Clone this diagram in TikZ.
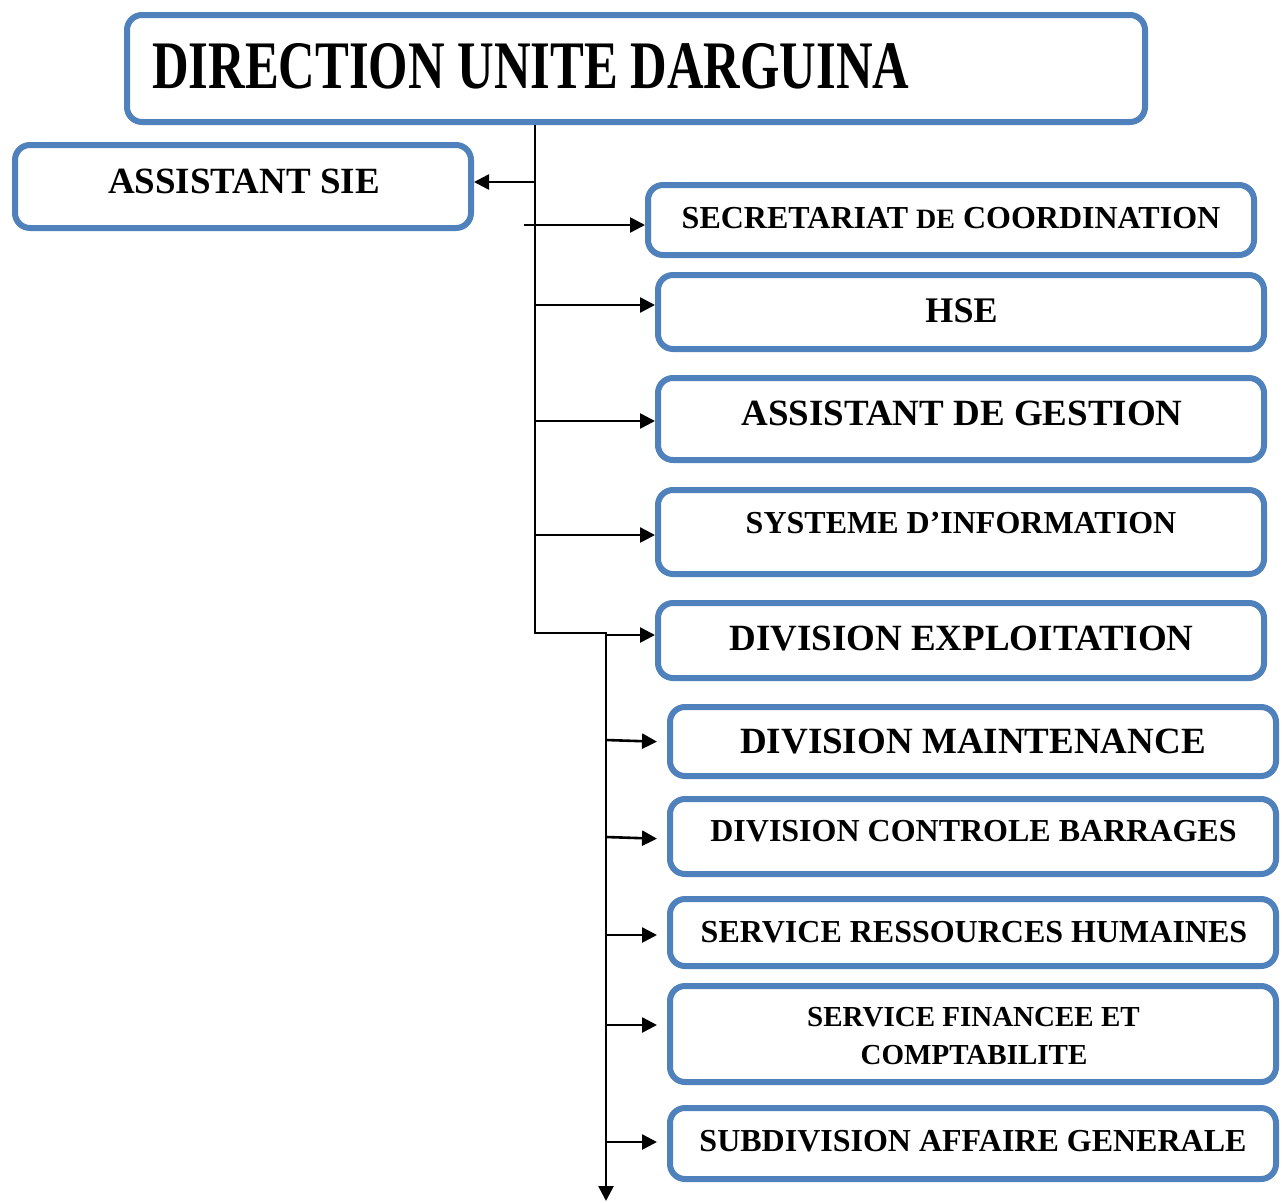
\documentclass[tikz,border=0pt]{standalone}
\usepackage{fontspec}
\usepackage{graphicx}
\setmainfont{Liberation Serif}
\usetikzlibrary{arrows.meta}
\definecolor{boxblue}{HTML}{4F81BD}
\newcommand\mkbox[5]{\node[box, minimum width={#4-#2-6}, minimum height={#5-#3-6}] (#1) at ({(#2+#4)/2},{(#3+#5)/2}) {};}
\begin{document}
\begin{tikzpicture}[x=1pt,y=-1pt,
  box/.style={draw=boxblue, line width=6pt, rounded corners=15pt, fill=white, inner sep=0pt},
  arr/.style={line width=2.6pt, -{Triangle[length=15pt,width=15pt]}},
  lbl/.style={anchor=base, inner sep=0pt, font=\bfseries}]
\useasboundingbox[fill=white] (0,0) rectangle (1282,1202);
% boxes
\mkbox{title}{124}{12}{1148}{125}
\mkbox{asie}{12}{142}{474}{231}
\mkbox{sec}{645}{182}{1257}{258}
\mkbox{hse}{655}{272}{1267}{352}
\mkbox{adg}{655}{375}{1267}{463}
\mkbox{sys}{655}{487}{1267}{577}
\mkbox{dexp}{655}{600}{1267}{681}
\mkbox{dmaint}{667}{704}{1279}{779}
\mkbox{dctrl}{667}{796}{1279}{877}
\mkbox{srh}{667}{896}{1279}{969}
\mkbox{sfin}{667}{983}{1279}{1085}
\mkbox{subdiv}{667}{1105}{1279}{1182}
% labels
\node[lbl, anchor=base west] (ttl) at (152,88) {\fontsize{68}{70}\selectfont\scalebox{0.745}[1]{DIRECTION UNITE DARGUINA}};
\node[lbl] (lasie) at (244,193) {\fontsize{37}{40}\selectfont ASSISTANT SIE};
\node[lbl] (lsec) at (951,228) {\fontsize{32}{34}\selectfont SECRETARIAT {\fontsize{28}{30}\selectfont DE} COORDINATION};
\node[lbl] (lhse) at (961.5,322) {\fontsize{36}{38}\selectfont HSE};
\node[lbl] (ladg) at (962,425) {\fontsize{37}{40}\selectfont ASSISTANT DE GESTION};
\node[lbl] (lsys) at (961,533) {\fontsize{32}{34}\selectfont SYSTEME D’INFORMATION};
\node[lbl] (ldexp) at (961.5,650) {\fontsize{37}{40}\selectfont DIVISION EXPLOITATION};
\node[lbl] (ldmaint) at (973,753) {\fontsize{37}{40}\selectfont DIVISION MAINTENANCE};
\node[lbl] (ldctrl) at (973.5,841) {\fontsize{32}{34}\selectfont DIVISION CONTROLE BARRAGES};
\node[lbl] (lsrh) at (974,942) {\fontsize{32}{34}\selectfont SERVICE RESSOURCES HUMAINES};
\node[lbl] (lsfina) at (973.5,1026) {\fontsize{29}{31}\selectfont SERVICE FINANCEE ET};
\node[lbl] (lsfinb) at (974,1064) {\fontsize{29}{31}\selectfont COMPTABILITE};
\node[lbl] (lsub) at (973,1151) {\fontsize{32}{34}\selectfont SUBDIVISION AFFAIRE GENERALE};
% trunk
\coordinate (tA) at (535,125);
\coordinate (tB) at (535,633);
\coordinate (tC) at (606,633);
\coordinate (tD) at (606,1201);
\draw[arr] (tA) -- (tB) -- (tC) -- (tD);
% branches
\draw[arr] (535,182) -- (asie.east |- {(0,182)});
\draw[arr] (524,225) -- (sec.west |- {(0,225)});
\draw[arr] (535,305) -- (hse.west |- {(0,305)});
\draw[arr] (535,421) -- (adg.west |- {(0,421)});
\draw[arr] (535,535) -- (sys.west |- {(0,535)});
\draw[arr] (606,635) -- (dexp.west |- {(0,635)});
\draw[arr, shorten >=10pt] (606,740) -- (dmaint.west |- {(0,742)});
\draw[arr, shorten >=10pt] (606,837) -- (dctrl.west |- {(0,839)});
\draw[arr, shorten >=10pt] (606,935) -- (srh.west |- {(0,935)});
\draw[arr, shorten >=10pt] (606,1025) -- (sfin.west |- {(0,1025)});
\draw[arr, shorten >=10pt] (606,1142) -- (subdiv.west |- {(0,1142)});
\end{tikzpicture}
\end{document}
